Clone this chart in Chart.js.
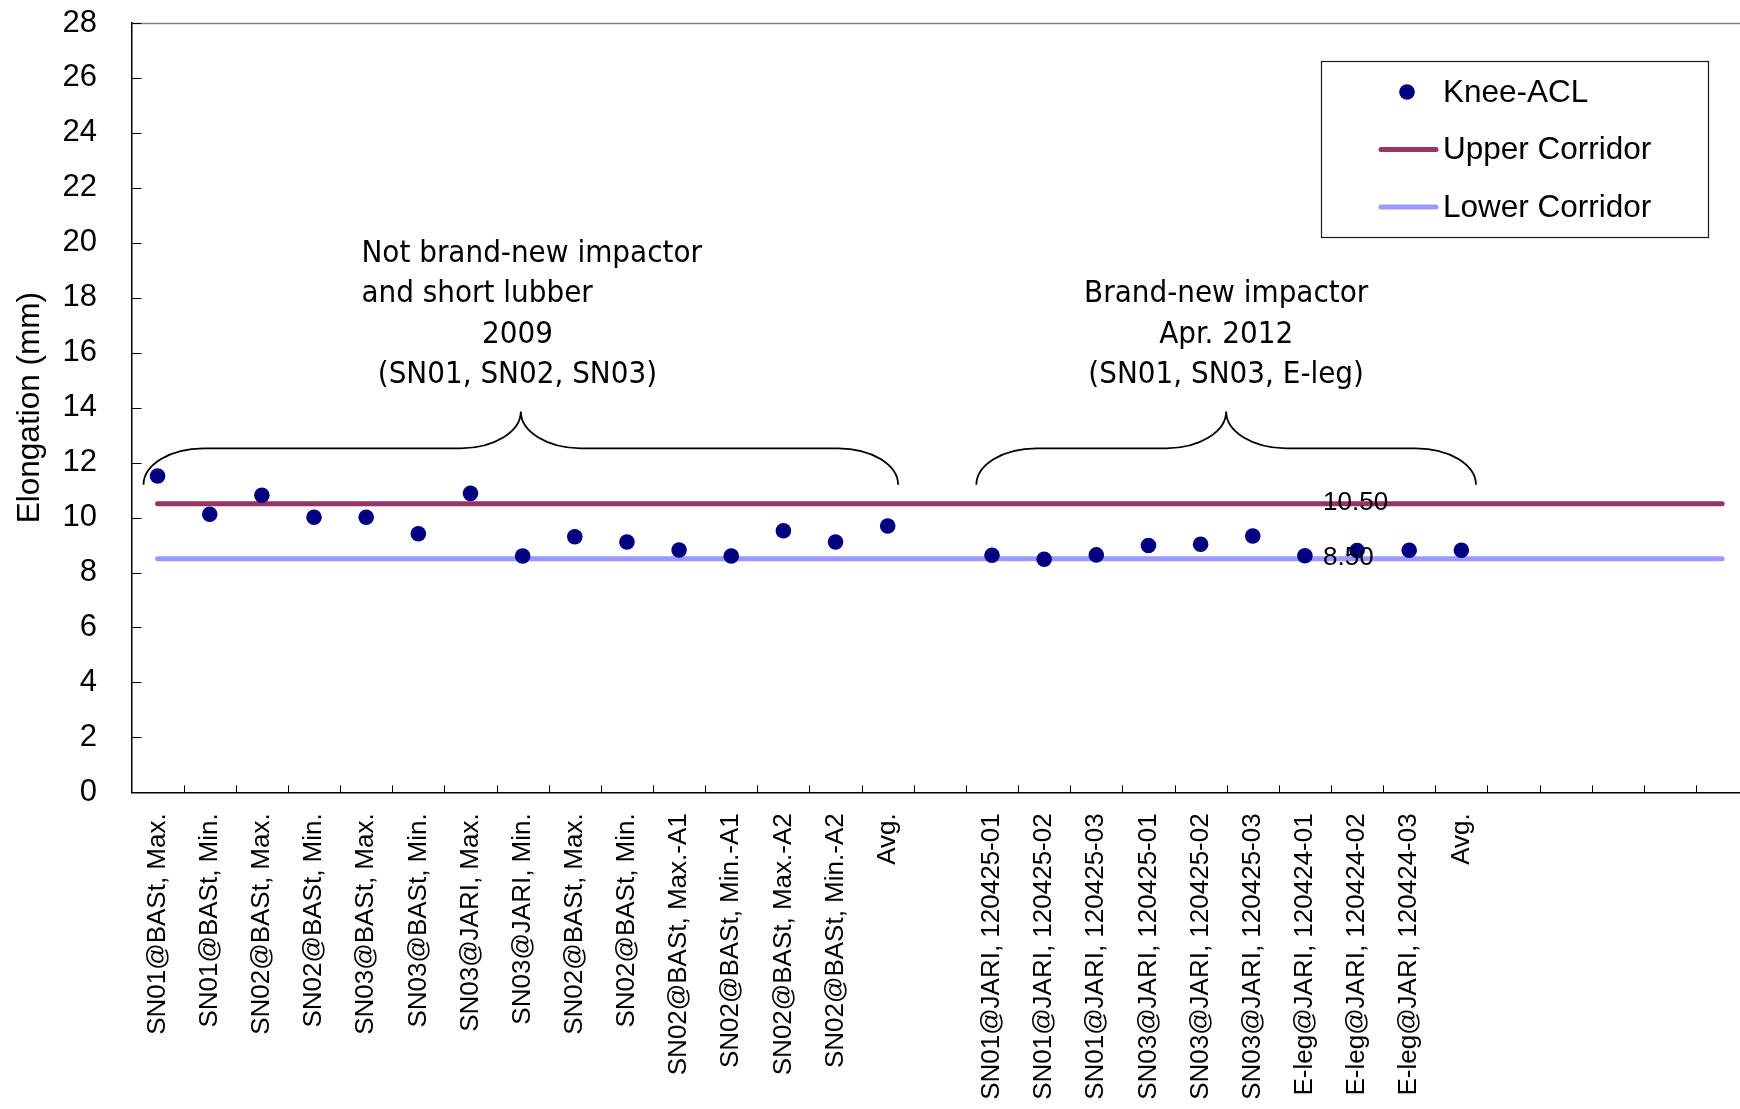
<!DOCTYPE html>
<html>
<head>
<meta charset="utf-8">
<title>Knee-ACL elongation</title>
<script src="https://cdn.jsdelivr.net/npm/chart.js@4.4.1/dist/chart.umd.min.js"></script>
<style>
  html, body { margin: 0; padding: 0; background: #ffffff; overflow: hidden; }
  #wrap { width: 1760px; height: 1109px; }
  canvas { display: block; }
</style>
</head>
<body>
<div id="wrap"><canvas id="chart" width="1760" height="1109"></canvas></div>
<script>
// ---- data ----
const categories = [
  'SN01@BASt, Max.', 'SN01@BASt, Min.', 'SN02@BASt, Max.', 'SN02@BASt, Min.',
  'SN03@BASt, Max.', 'SN03@BASt, Min.', 'SN03@JARI, Max.', 'SN03@JARI, Min.',
  'SN02@BASt, Max.', 'SN02@BASt, Min.', 'SN02@BASt, Max.-A1', 'SN02@BASt, Min.-A1',
  'SN02@BASt, Max.-A2', 'SN02@BASt, Min.-A2', 'Avg.', '',
  'SN01@JARI, 120425-01', 'SN01@JARI, 120425-02', 'SN01@JARI, 120425-03',
  'SN03@JARI, 120425-01', 'SN03@JARI, 120425-02', 'SN03@JARI, 120425-03',
  'E-leg@JARI, 120424-01', 'E-leg@JARI, 120424-02', 'E-leg@JARI, 120424-03',
  'Avg.', '', '', '', '', ''
];

const kneeACL = [
  11.51, 10.12, 10.81, 10.01, 10.01, 9.41, 10.88, 8.60,
  9.30, 9.11, 8.82, 8.60, 9.52, 9.11, 9.69, null,
  8.63, 8.48, 8.64, 8.98, 9.03, 9.33, 8.61, 8.80, 8.81,
  8.81, null, null, null, null, null
];

const upperCorridor = [
  10.5, 10.5, 10.5, 10.5, 10.5, 10.5, 10.5, 10.5, 10.5, 10.5, 10.5,
  10.5, 10.5, 10.5, 10.5, 10.5, 10.5, 10.5, 10.5, 10.5, 10.5, 10.5,
  10.5, 10.5, 10.5, 10.5, 10.5, 10.5, 10.5, 10.5, 10.5
];

const lowerCorridor = [
  8.5, 8.5, 8.5, 8.5, 8.5, 8.5, 8.5, 8.5, 8.5, 8.5, 8.5,
  8.5, 8.5, 8.5, 8.5, 8.5, 8.5, 8.5, 8.5, 8.5, 8.5, 8.5,
  8.5, 8.5, 8.5, 8.5, 8.5, 8.5, 8.5, 8.5, 8.5
];

const yTicks = [0, 2, 4, 6, 8, 10, 12, 14, 16, 18, 20, 22, 24, 26, 28];

const groupNotes = [
  ['Not brand-new impactor', 'and short lubber', '2009', '(SN01, SN02, SN03)'],
  ['Brand-new impactor', 'Apr. 2012', '(SN01, SN03, E-leg)']
];

// index at which the corridor values are written next to their lines
const corridorLabelIndex = 23;

// ---- fonts ----
const SANS = '"Liberation Sans", Arial, Helvetica, sans-serif';
Chart.defaults.font.family = SANS;
Chart.defaults.color = '#000000';

function noteFont() {
  const c = document.createElement('canvas').getContext('2d');
  const s = 'Brand-new impactor';
  c.font = '30px "DejaVu Sans Condensed", monospace';
  const a = c.measureText(s).width;
  c.font = '30px monospace';
  const b = c.measureText(s).width;
  return Math.abs(a - b) > 0.5 ? '31px "DejaVu Sans Condensed"' : '28px "DejaVu Sans"';
}
const NOTE_FONT = noteFont();

// ---- plugins ----
// plot frame top edge and inward tick marks
const frameTicks = {
  id: 'frameTicks',
  beforeDatasetsDraw(chart) {
    const { ctx, chartArea: a, scales: { x, y } } = chart;
    ctx.save();
    ctx.strokeStyle = '#7f7f7f';
    ctx.lineWidth = 1.5;
    ctx.beginPath();
    ctx.moveTo(a.left, a.top + 0.5);
    ctx.lineTo(a.right, a.top + 0.5);
    ctx.stroke();

    ctx.strokeStyle = '#000000';
    ctx.lineWidth = 1;
    ctx.beginPath();
    yTicks.forEach(v => {
      const py = Math.round(y.getPixelForValue(v)) + 0.5;
      ctx.moveTo(a.left, py);
      ctx.lineTo(a.left + 10, py);
    });
    for (let k = 1; k <= categories.length; k++) {
      const px = Math.round((x.getPixelForValue(k - 1) + x.getPixelForValue(k)) / 2) + 0.5;
      ctx.moveTo(px, a.bottom);
      ctx.lineTo(px, a.bottom - 7);
    }
    ctx.stroke();
    ctx.restore();
  }
};

// curly braces with their notes above each test group
const groupBraces = {
  id: 'groupBraces',
  afterDatasetsDraw(chart) {
    const { ctx, scales: { x, y } } = chart;
    const braces = [
      { from: -0.27, to: 14.2 },
      { from: 15.70, to: 25.28 }
    ];
    const yEnd = y.getPixelForValue(11.19);
    const yBar = y.getPixelForValue(12.52);
    const yTip = y.getPixelForValue(13.86);
    const r = 60, k = 0.5523;
    ctx.save();
    ctx.strokeStyle = '#000000';
    ctx.lineWidth = 1.8;
    braces.forEach(b => {
      const xl = x.getPixelForValue(b.from);
      const xr = x.getPixelForValue(b.to);
      const xm = (xl + xr) / 2;
      const hv = yEnd - yBar, ht = yBar - yTip;
      ctx.beginPath();
      ctx.moveTo(xl, yEnd);
      ctx.bezierCurveTo(xl, yEnd - k * hv, xl + r - k * r, yBar, xl + r, yBar);
      ctx.lineTo(xm - r, yBar);
      ctx.bezierCurveTo(xm - r + k * r, yBar, xm, yTip + k * ht, xm, yTip);
      ctx.bezierCurveTo(xm, yTip + k * ht, xm + r - k * r, yBar, xm + r, yBar);
      ctx.lineTo(xr - r, yBar);
      ctx.bezierCurveTo(xr - r + k * r, yBar, xr, yEnd - k * hv, xr, yEnd);
      ctx.stroke();
    });

    ctx.fillStyle = '#000000';
    ctx.font = NOTE_FONT;
    ctx.textBaseline = 'alphabetic';
    const lh = 40.5;
    // first group: two left-aligned lines, then two centred lines
    const g1Left = x.getPixelForValue(3.91);
    const g1Mid = x.getPixelForValue(6.90);
    const g1Base = y.getPixelForValue(19.31);
    groupNotes[0].forEach((t, i) => {
      ctx.textAlign = i < 2 ? 'left' : 'center';
      ctx.fillText(t, i < 2 ? g1Left : g1Mid, g1Base + i * lh);
    });
    // second group: centred over its brace, level with the lower three lines
    const g2Mid = x.getPixelForValue(20.49);
    const g2Base = g1Base + lh;
    ctx.textAlign = 'center';
    groupNotes[1].forEach((t, i) => {
      ctx.fillText(t, g2Mid, g2Base + i * lh);
    });
    ctx.restore();
  }
};

// value labels on the corridor lines
const corridorLabels = {
  id: 'corridorLabels',
  afterDatasetsDraw(chart) {
    const { ctx } = chart;
    ctx.save();
    ctx.font = '26px ' + SANS;
    ctx.fillStyle = '#000000';
    ctx.textAlign = 'left';
    ctx.textBaseline = 'middle';
    [1, 2].forEach(di => {
      const el = chart.getDatasetMeta(di).data[corridorLabelIndex];
      const v = chart.data.datasets[di].data[corridorLabelIndex];
      ctx.fillText(v.toFixed(2), el.x - 34, el.y - 1);
    });
    ctx.restore();
  }
};

// boxed legend in the upper right corner
const boxLegend = {
  id: 'boxLegend',
  afterDraw(chart) {
    const { ctx } = chart;
    const ds = chart.data.datasets;
    const bx = 1321.5, by = 61.5, bw = 387, bh = 176;
    ctx.save();
    ctx.fillStyle = '#ffffff';
    ctx.fillRect(bx, by, bw, bh);
    ctx.strokeStyle = '#1a1a1a';
    ctx.lineWidth = 1.2;
    ctx.strokeRect(bx, by, bw, bh);
    const rows = [92, 149.5, 207];
    const textX = 1443;
    ctx.font = '31.5px ' + SANS;
    ctx.fillStyle = '#000000';
    ctx.textAlign = 'left';
    ctx.textBaseline = 'middle';
    ds.forEach((d, i) => {
      const ry = rows[i];
      if (d.showLine === false) {
        ctx.beginPath();
        ctx.fillStyle = d.pointBackgroundColor;
        ctx.arc(1407, ry, d.pointRadius, 0, Math.PI * 2);
        ctx.fill();
      } else {
        ctx.beginPath();
        ctx.strokeStyle = d.borderColor;
        ctx.lineWidth = d.borderWidth;
        ctx.lineCap = 'round';
        ctx.moveTo(1381, ry);
        ctx.lineTo(1436, ry);
        ctx.stroke();
      }
      ctx.fillStyle = '#000000';
      ctx.fillText(d.label, textX, ry + 1);
    });
    ctx.restore();
  }
};

// ---- chart ----
new Chart(document.getElementById('chart'), {
  type: 'line',
  data: {
    labels: categories,
    datasets: [
      {
        label: 'Knee-ACL',
        data: kneeACL,
        showLine: false,
        pointRadius: 7.8,
        pointBorderWidth: 0,
        pointBackgroundColor: '#000080',
        pointBorderColor: '#000080',
        borderColor: '#000080',
        backgroundColor: '#000080'
      },
      {
        label: 'Upper Corridor',
        data: upperCorridor,
        borderColor: '#993366',
        borderWidth: 5,
        borderCapStyle: 'round',
        pointRadius: 0,
        fill: false
      },
      {
        label: 'Lower Corridor',
        data: lowerCorridor,
        borderColor: '#9999ff',
        borderWidth: 5,
        borderCapStyle: 'round',
        pointRadius: 0,
        fill: false
      }
    ]
  },
  options: {
    responsive: false,
    animation: false,
    devicePixelRatio: 1,
    layout: { padding: { left: 0, right: 11.8, top: 23, bottom: 0 } },
    plugins: {
      legend: { display: false },
      tooltip: { enabled: false }
    },
    scales: {
      x: {
        type: 'category',
        offset: true,
        grid: { display: false, drawTicks: false },
        border: { display: true, color: '#000000', width: 1.5 },
        ticks: {
          autoSkip: false,
          minRotation: 90,
          maxRotation: 90,
          padding: 21,
          color: '#000000',
          font: { family: SANS, size: 26 }
        },
        afterFit(scale) {
          scale.height = 316.7;
          scale.paddingLeft = 0;
          scale.paddingRight = 0;
        }
      },
      y: {
        min: 0,
        max: 28,
        afterBuildTicks(scale) { scale.ticks = yTicks.map(v => ({ value: v })); },
        grid: { display: false, drawTicks: false },
        border: { display: true, color: '#000000', width: 1.5 },
        ticks: {
          padding: 34.5,
          color: '#000000',
          font: { family: SANS, size: 31 }
        },
        title: {
          display: true,
          text: 'Elongation (mm)',
          color: '#000000',
          font: { family: SANS, size: 31.5 },
          padding: { top: 11, bottom: 0 }
        },
        afterFit(scale) {
          scale.width = 131.5;
          scale.paddingTop = 0;
          scale.paddingBottom = 0;
        }
      }
    }
  },
  plugins: [frameTicks, groupBraces, corridorLabels, boxLegend]
});
</script>
</body>
</html>
